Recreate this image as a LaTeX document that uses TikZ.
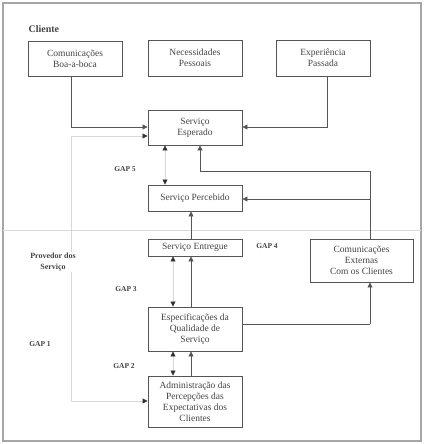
\documentclass[tikz,border=0pt]{standalone}
\usepackage{fontspec}
\setmainfont{Liberation Serif}
\usetikzlibrary{arrows.meta}
\definecolor{boxline}{HTML}{555555}
\definecolor{txt}{HTML}{444444}
\definecolor{faint}{HTML}{D8D8D8}
\begin{document}
\begin{tikzpicture}[x=1pt,y=-1pt,
  box/.style={draw=boxline,line width=0.9pt,fill=white,inner sep=0pt,text=txt,
    font=\fontsize{9.5}{11}\selectfont,align=center},
  gap/.style={font=\bfseries\fontsize{7.5}{9}\selectfont,text=txt},
  conn/.style={draw=boxline,line width=0.8pt},
  arr/.style={-{Triangle[length=5pt,width=5pt]}},
  faintline/.style={draw=faint,line width=0.8pt},
  dk/.tip={Triangle[length=5pt,width=5pt,color=black!80,fill=black!80]}]
\useasboundingbox (0,0) rectangle (424,444);
\fill[white] (0,0) rectangle (424,444);
\draw[draw=gray!70,line width=1.2pt] (3,3) rectangle (421,441);
% divider
\draw[faintline] (3,230) -- (421,230);
% coordinates
\coordinate (c1) at (71,127);
\coordinate (c3) at (327,127);
\coordinate (ga) at (71,136);
\coordinate (gb) at (71,401);
\coordinate (e1) at (370,171);
\coordinate (e2) at (200,171);
\coordinate (e3) at (370,199);
\coordinate (q1) at (370,324);
\draw[faintline] (ga) -- (gb);
% label texts
\node[anchor=west,font=\bfseries\fontsize{10}{12}\selectfont,text=txt] (cli) at (25,29) {Cliente};
\node[gap,align=center,fill=white,inner sep=1pt,font=\bfseries\fontsize{8}{11}\selectfont] (prov) at (53,262) {Provedor dos\\Serviço};
\node[gap] (g5) at (125,169) {GAP 5};
\node[gap] (g4) at (267,246) {GAP 4};
\node[gap] (g3) at (126,289) {GAP 3};
\node[gap] (g1) at (40,344) {GAP 1};
\node[gap] (g2) at (124,366) {GAP 2};
% boxes
\node[box,minimum width=94pt,minimum height=35pt] (bab) at (75,58.5) {Comunicações\\Boa-a-boca};
\node[box,minimum width=94pt,minimum height=36pt] (nec) at (195,58) {Necessidades\\Pessoais};
\node[box,minimum width=94pt,minimum height=36pt] (exp) at (323,58) {Experiência\\Passada};
\node[box,minimum width=94pt,minimum height=35pt] (esp) at (195,127.5) {Serviço\\Esperado};
\node[box,minimum width=94pt,minimum height=26pt] (per) at (195,198) {Serviço Percebido};
\node[box,minimum width=94pt,minimum height=17pt] (ent) at (195,247.5) {Serviço Entregue};
\node[box,minimum width=103pt,minimum height=43pt] (ext) at (361.5,260.5) {Comunicações\\Externas\\Com os Clientes};
\node[box,minimum width=94pt,minimum height=44pt] (qua) at (195,329) {Especificações da\\Qualidade de\\Serviço};
\node[box,minimum width=94pt,minimum height=51pt] (adm) at (195,401.5) {Administração das\\Percepções das\\Expectativas dos\\Clientes};
% connectors
\draw[conn,arr] (bab.south -| c1) -- (c1) -- (esp.west |- c1);
\draw[conn,arr] (exp.south -| c3) -- (c3) -- (esp.east |- c3);
\draw[faintline,-dk] (ga) -- (esp.west |- ga);
\draw[faintline,-dk] (gb) -- (adm.west |- gb);
\draw[conn] (ext.north -| e1) -- (e1) -- (e2);
\draw[conn,arr] (e2) -- (esp.south -| e2);
\draw[conn,arr] (e3) -- (per.east |- e3);
\draw[conn,arr] (ent.north -| 191,0) -- (per.south -| 191,0);
\draw[conn,arr] (qua.north -| 191,0) -- (ent.south -| 191,0);
\draw[conn,arr] (adm.north -| 191,0) -- (qua.south -| 191,0);
\draw[conn] (qua.east |- q1) -- (q1);
\draw[conn,arr] (q1) -- (ext.south -| q1);
\draw[faintline,dk-dk] (esp.south -| 165,0) -- (per.north -| 165,0);
\draw[faintline,dk-dk] (ent.south -| 173,0) -- (qua.north -| 173,0);
\draw[faintline,dk-dk] (qua.south -| 173,0) -- (adm.north -| 173,0);
\end{tikzpicture}
\end{document}
